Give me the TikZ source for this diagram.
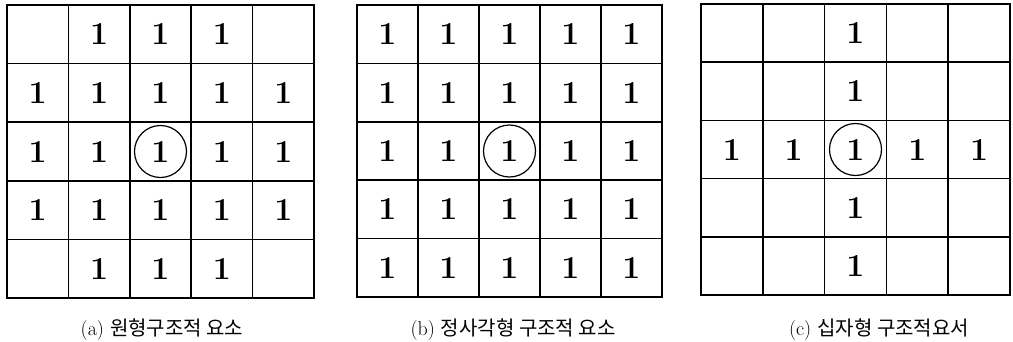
\documentclass[tikz,border=0pt]{standalone}
\usepackage{fontspec}
\usepackage{tikz}
\newfontfamily\krfont{Noto Sans CJK KR}
\tikzset{
  cellbox/.style={
    draw, line width=1.6pt, inner sep=0pt,
    minimum width=61pt, minimum height=58.5pt,
    font=\fontsize{32}{32}\selectfont\bfseries
  },
  originmark/.style={draw, circle, line width=1.2pt, minimum size=52pt, inner sep=0pt},
  caption/.style={font=\fontsize{20}{20}\selectfont, anchor=base, inner sep=0pt}
}

\begin{document}
\begin{tikzpicture}[x=1pt, y=-1pt]
  \useasboundingbox (0,0) rectangle (1013,341);

  % (a) disk: the four corners stay empty
  \foreach \r in {1,...,5}{
    \foreach \c in {1,...,5}{
      \pgfmathtruncatemacro{\corner}{and(or(\r==1,\r==5),or(\c==1,\c==5))}
      \node[cellbox, minimum width=61.4pt, minimum height=58.6pt] (a-\r-\c)
        at ({7+(\c-0.5)*61.4},{5+(\r-0.5)*58.6}) {\ifnum\corner=0 1\fi};
    }
  }
  \node[originmark] (a-mark) at (a-3-3) {};
  \node[caption] (a-cap) at (162,335) {(a) {\krfont 원형구조적 요소}};

  % (b) square: every cell set
  \foreach \r in {1,...,5}{
    \foreach \c in {1,...,5}{
      \node[cellbox, minimum width=61pt, minimum height=58.4pt] (b-\r-\c)
        at ({357+(\c-0.5)*61},{5+(\r-0.5)*58.4}) {1};
    }
  }
  \node[originmark] (b-mark) at (b-3-3) {};
  \node[caption] (b-cap) at (513,335) {(b) {\krfont 정사각형 구조적 요소}};

  % (c) cross: middle row and middle column
  \foreach \r in {1,...,5}{
    \foreach \c in {1,...,5}{
      \pgfmathtruncatemacro{\onaxis}{or(\r==3,\c==3)}
      \node[cellbox, minimum width=61.8pt, minimum height=58.2pt] (c-\r-\c)
        at ({701+(\c-0.5)*61.8},{4+(\r-0.5)*58.2}) {\ifnum\onaxis=1 1\fi};
    }
  }
  \node[originmark] (c-mark) at (c-3-3) {};
  \node[caption] (c-cap) at (879,335) {(c) {\krfont 십자형 구조적요서}};
\end{tikzpicture}
\end{document}
